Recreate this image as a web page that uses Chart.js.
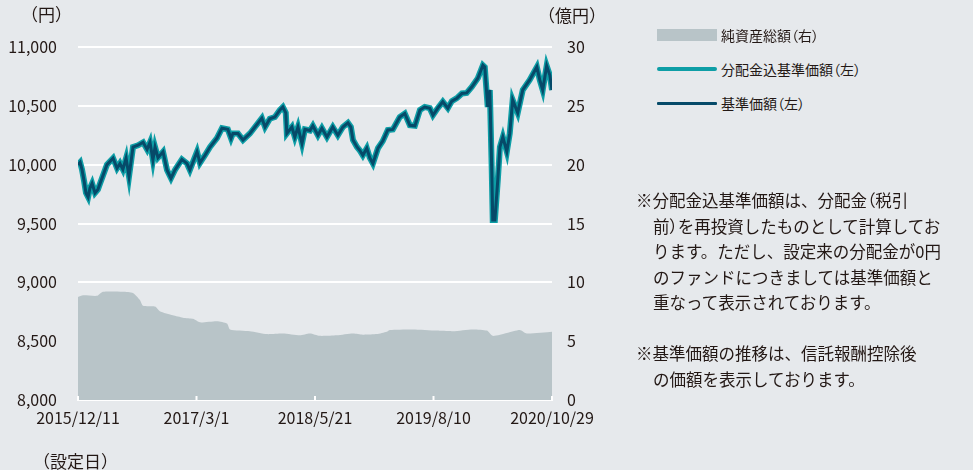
<!DOCTYPE html>
<html lang="ja">
<head>
<meta charset="utf-8">
<script src="https://cdn.jsdelivr.net/npm/chart.js@4"></script>
<style>
  html, body { margin: 0; padding: 0; }
  body { width: 973px; height: 470px; background: #e6e9ec; position: relative; overflow: hidden;
         font-family: 'Noto Sans CJK JP', 'Noto Sans', sans-serif; color: #231815; }
  #wrap { position: absolute; left: 0; top: 0; width: 640px; height: 470px; }
  .unit { position: absolute; font-size: 16px; line-height: 1; }
  .p { font-feature-settings: "palt"; }
  .lg { position: absolute; left: 657px; font-size: 14px; line-height: 1; display: flex; align-items: center; white-space: nowrap; }
  .lg i { display: inline-block; width: 60px; margin-right: 4px; }
  .note { position: absolute; left: 636px; font-size: 16.5px; line-height: 25.5px; white-space: nowrap; }
  .note .in { padding-left: 17px; }
</style>
</head>
<body>
<div id="wrap"><canvas id="c"></canvas></div>
<div class="unit" style="left:21px;top:5px;font-size:17px">（円）</div>
<div class="unit" style="left:538px;top:6px;font-size:17px">（億円）</div>
<div class="unit" style="left:33px;top:452px;font-size:17px">（設定日）</div>

<div class="lg" style="top:28px"><i style="height:12px;background:#b8c4c8"></i>純資産総額<span class="p">（右）</span></div>
<div class="lg" style="top:62px"><i style="height:4px;background:#0e9ea6;border-radius:2px"></i>分配金込基準価額<span class="p">（左）</span></div>
<div class="lg" style="top:96px"><i style="height:3px;background:#064a69;border-radius:1px"></i>基準価額<span class="p">（左）</span></div>

<div class="note" style="top:188px">
  <div>※分配金込基準価額は、分配金<span class="p">（</span>税引</div>
  <div class="in">前<span class="p">）</span>を再投資したものとして計算してお</div>
  <div class="in">ります。ただし、設定来の分配金が0円</div>
  <div class="in">のファンドにつきましては基準価額と</div>
  <div class="in">重なって表示されております。</div>
  <div style="margin-top:25.5px">※基準価額の推移は、信託報酬控除後</div>
  <div class="in">の価額を表示しております。</div>
</div>

<script>
// 設定日からの経過日数と目盛ラベル
const tickDays = [0, 446, 892, 1338, 1784];
const tickLabels = ['2015/12/11', '2017/3/1', '2018/5/21', '2019/8/10', '2020/10/29'];

// 基準価額（円）
const priceDays = [0, 8, 15, 23, 30, 38, 45, 53, 64, 75, 83, 109, 132, 147, 158, 169, 181, 192, 207, 226,
  245, 260, 271, 282, 290, 301, 320, 335, 350, 365, 391, 410, 421, 448, 459, 478, 497, 523, 542, 564,
  576, 583, 602, 621, 647, 666, 692, 704, 722, 741, 760, 771, 782, 786, 805, 816, 828, 843, 854, 873,
  884, 903, 918, 937, 959, 978, 997, 1016, 1027, 1035, 1050, 1061, 1072, 1087, 1098, 1110, 1129, 1147, 1166, 1185,
  1211, 1230, 1249, 1268, 1287, 1305, 1324, 1336, 1354, 1373, 1392, 1407, 1426, 1445, 1463, 1482, 1505, 1524, 1531, 1542,
  1550, 1557, 1561, 1569, 1580, 1588, 1599, 1614, 1625, 1636, 1655, 1674, 1700, 1727, 1738, 1749, 1764, 1776, 1784];
const priceVals = [10000, 10020, 9960, 9860, 9760, 9725, 9800, 9840, 9760, 9790, 9840, 10000, 10055, 9970, 10010, 9960, 10055, 9900, 10150, 10165,
  10190, 10130, 10190, 10040, 10150, 10060, 10110, 9955, 9885, 9955, 10045, 10010, 9955, 10110, 10015, 10080, 10150, 10225, 10310, 10300,
  10225, 10265, 10265, 10210, 10265, 10320, 10395, 10320, 10390, 10405, 10465, 10490, 10440, 10265, 10320, 10235, 10320, 10180, 10300, 10290,
  10330, 10250, 10310, 10235, 10320, 10250, 10320, 10355, 10320, 10210, 10150, 10120, 10080, 10140, 10060, 10010, 10140, 10200, 10295, 10300,
  10405, 10435, 10335, 10330, 10465, 10490, 10480, 10420, 10480, 10535, 10480, 10540, 10565, 10605, 10610, 10660, 10735, 10845, 10830, 10490,
  10635, 9980, 9530, 9530, 9870, 10150, 10235, 10110, 10265, 10550, 10440, 10635, 10720, 10830, 10720, 10635, 10840, 10760, 10635];
// 分配金込基準価額（分配金0円のため基準価額と同じ）
const reinvVals = priceVals.slice();

// 純資産総額（億円）
const navDays = [0, 19, 71, 94, 169, 207, 233, 245, 290, 308, 357, 395, 433, 459, 523, 561, 572, 647, 711, 771,
  835, 873, 910, 974, 1035, 1072, 1125, 1162, 1174, 1260, 1351, 1411, 1486, 1539, 1561, 1614, 1663, 1689, 1784];
const navVals = [8.75, 8.9, 8.85, 9.2, 9.2, 9.1, 8.5, 8.0, 7.95, 7.55, 7.2, 7.0, 6.9, 6.6, 6.7, 6.5, 6.0, 5.85, 5.6, 5.65,
  5.5, 5.65, 5.45, 5.5, 5.65, 5.55, 5.6, 5.8, 5.95, 6.0, 5.9, 5.85, 6.0, 5.9, 5.45, 5.7, 5.95, 5.65, 5.8];

const pts = (xs, ys) => xs.map((x, i) => ({ x, y: ys[i] }));

// x軸の上向き目盛（白）
const upTicks = {
  id: 'upTicks',
  afterDatasetsDraw(chart) {
    const { ctx, scales: { x }, chartArea } = chart;
    ctx.save();
    ctx.strokeStyle = '#fff';
    ctx.lineWidth = 2;
    tickDays.forEach(d => {
      const px = x.getPixelForValue(d);
      ctx.beginPath();
      ctx.moveTo(px, chartArea.bottom);
      ctx.lineTo(px, chartArea.bottom - 4);
      ctx.stroke();
    });
    ctx.restore();
  },
};

const font = { family: "'Noto Sans CJK JP', sans-serif", size: 16 };

new Chart(document.getElementById('c'), {
  type: 'line',
  data: {
    datasets: [
      {
        label: '基準価額（左）',
        data: pts(priceDays, priceVals),
        yAxisID: 'y',
        borderColor: '#064a69',
        borderWidth: 3,
        pointRadius: 0,
        tension: 0,
        order: 1,
      },
      {
        label: '分配金込基準価額（左）',
        data: pts(priceDays, reinvVals),
        yAxisID: 'y',
        borderColor: '#0e9ea6',
        borderWidth: 6,
        pointRadius: 0,
        tension: 0,
        order: 2,
      },
      {
        label: '純資産総額（右）',
        data: pts(navDays, navVals),
        yAxisID: 'y1',
        borderWidth: 0,
        backgroundColor: '#b8c4c8',
        fill: 'origin',
        pointRadius: 0,
        tension: 0.2,
        order: 3,
      },
    ],
  },
  options: {
    responsive: true,
    maintainAspectRatio: false,
    animation: false,
    layout: { padding: { top: 47, left: 0, right: 0, bottom: 0 } },
    plugins: { legend: { display: false }, tooltip: { enabled: false } },
    scales: {
      x: {
        type: 'linear',
        min: 0,
        max: 1784,
        afterBuildTicks: s => { s.ticks = tickDays.map(v => ({ value: v })); },
        afterFit: s => { s.height = 70; },
        grid: { display: false, drawTicks: false },
        border: { display: true, color: '#fff', width: 2 },
        ticks: {
          autoSkip: false, maxRotation: 0, padding: 8, color: '#231815', font,
          callback: v => tickLabels[tickDays.indexOf(v)],
        },
      },
      y: {
        position: 'left',
        min: 8000,
        max: 11000,
        afterFit: s => { s.width = 78; },
        grid: { color: '#fff', lineWidth: 2, drawTicks: false },
        border: { display: false },
        ticks: { stepSize: 500, padding: 21, color: '#231815', font, callback: v => v.toLocaleString('en-US') },
      },
      y1: {
        position: 'right',
        min: 0,
        max: 30,
        afterFit: s => { s.width = 88; },
        grid: { display: false, drawTicks: false },
        border: { display: false },
        ticks: { stepSize: 5, padding: 15, color: '#231815', font },
      },
    },
  },
  plugins: [upTicks],
});
</script>
</body>
</html>
